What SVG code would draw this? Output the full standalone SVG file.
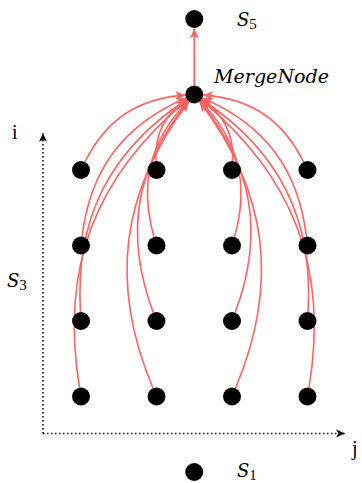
<svg xmlns="http://www.w3.org/2000/svg" width="362" height="483" viewBox="0 0 362 483">
  <style>
    .node { fill: #000; }
    .edge { fill: none; stroke: #ff6464; stroke-width: 1.6; marker-end: url(#redTip); }
    .axis { fill: none; stroke: #000; stroke-width: 1.5; stroke-dasharray: 1.5 2.5; marker-end: url(#blackTip); }
    .lbl { font-family: "Liberation Serif", "Times New Roman", serif; font-size: 20px; fill: #000; }
    .it { font-family: "DejaVu Serif", "Liberation Serif", serif; font-style: italic; font-size: 18px; }
    .sub { font-family: "Liberation Serif", serif; font-size: 15px; font-style: normal; }
  </style>
  <defs>
    <marker id="redTip" markerUnits="userSpaceOnUse" markerWidth="14" markerHeight="12" refX="10" refY="4.5" orient="auto" overflow="visible">
      <path d="M10,4.5 L0,0 L3,4.5 L0,9 Z" fill="#ff6464"/>
    </marker>
    <marker id="blackTip" markerUnits="userSpaceOnUse" markerWidth="14" markerHeight="12" refX="9" refY="4" orient="auto" overflow="visible">
      <path d="M9,4 L0,0 L2.5,4 L0,8 Z" fill="#000"/>
    </marker>
  </defs>

  <g id="axes">
    <path class="axis" d="M43,433.5 L43,133"/>
    <path class="axis" d="M43,433.5 L345,433.5"/>
    <text class="lbl" x="12" y="139">i</text>
    <text class="lbl" x="352" y="455">j</text>
    <text class="lbl it" x="7" y="287">S<tspan class="sub" dy="3">3</tspan></text>
  </g>

  <g id="connectors">
    <path class="edge" d="M194.25,85.5 L194.25,28.5"/>
    <!-- left side -->
    <path class="edge" d="M84.99,161.93 C105.91,119.62 138.16,98.12 185.27,95.08"/>
    <path class="edge" d="M82.08,236.56 C90.19,169.26 123.63,124.67 185.97,98.04"/>
    <path class="edge" d="M80.46,312.02 C74.89,219.15 109.10,150.73 186.74,99.46"/>
    <path class="edge" d="M79.52,387.62 C59.80,269.08 94.49,176.55 187.30,100.22"/>
    <path class="edge" d="M155.96,161.02 C154.35,134.12 164.25,114.31 186.74,99.46"/>
    <path class="edge" d="M154.02,236.85 C138.94,184.14 149.88,140.38 187.99,100.97"/>
    <path class="edge" d="M153.34,312.57 C123.95,234.11 135.27,166.14 188.53,101.45"/>
    <path class="edge" d="M153.00,388.21 C109.05,284.06 120.58,191.81 188.82,101.68"/>
    <!-- right side -->
    <path class="edge" d="M303.51,161.93 C282.59,119.62 250.34,98.12 203.23,95.08"/>
    <path class="edge" d="M306.42,236.56 C298.31,169.26 264.87,124.67 202.53,98.04"/>
    <path class="edge" d="M308.04,312.02 C313.61,219.15 279.40,150.73 201.76,99.46"/>
    <path class="edge" d="M308.98,387.62 C328.70,269.08 294.01,176.55 201.20,100.22"/>
    <path class="edge" d="M232.54,161.02 C234.15,134.12 224.25,114.31 201.76,99.46"/>
    <path class="edge" d="M234.48,236.85 C249.56,184.14 238.62,140.38 200.51,100.97"/>
    <path class="edge" d="M235.16,312.57 C264.55,234.11 253.23,166.14 199.97,101.45"/>
    <path class="edge" d="M235.50,388.21 C279.45,284.06 267.92,191.81 199.68,101.68"/>
  </g>

  <g id="S5">
    <circle class="node" cx="194.25" cy="19" r="9"/>
    <text class="lbl it" x="237" y="26">S<tspan class="sub" dy="3">5</tspan></text>
  </g>
  <g id="MergeNode">
    <circle class="node" cx="194.25" cy="94.5" r="9"/>
    <text class="lbl it" x="214" y="83" textLength="115" lengthAdjust="spacingAndGlyphs">MergeNode</text>
  </g>
  <g id="S1">
    <circle class="node" cx="194.25" cy="472" r="9"/>
    <text class="lbl it" x="237" y="477">S<tspan class="sub" dy="2.5">1</tspan></text>
  </g>

  <g id="n11"><circle class="node" cx="81" cy="170" r="9"/></g>
  <g id="n12"><circle class="node" cx="156.5" cy="170" r="9"/></g>
  <g id="n13"><circle class="node" cx="232" cy="170" r="9"/></g>
  <g id="n14"><circle class="node" cx="307.5" cy="170" r="9"/></g>
  <g id="n21"><circle class="node" cx="81" cy="245.5" r="9"/></g>
  <g id="n22"><circle class="node" cx="156.5" cy="245.5" r="9"/></g>
  <g id="n23"><circle class="node" cx="232" cy="245.5" r="9"/></g>
  <g id="n24"><circle class="node" cx="307.5" cy="245.5" r="9"/></g>
  <g id="n31"><circle class="node" cx="81" cy="321" r="9"/></g>
  <g id="n32"><circle class="node" cx="156.5" cy="321" r="9"/></g>
  <g id="n33"><circle class="node" cx="232" cy="321" r="9"/></g>
  <g id="n34"><circle class="node" cx="307.5" cy="321" r="9"/></g>
  <g id="n41"><circle class="node" cx="81" cy="396.5" r="9"/></g>
  <g id="n42"><circle class="node" cx="156.5" cy="396.5" r="9"/></g>
  <g id="n43"><circle class="node" cx="232" cy="396.5" r="9"/></g>
  <g id="n44"><circle class="node" cx="307.5" cy="396.5" r="9"/></g>
</svg>
